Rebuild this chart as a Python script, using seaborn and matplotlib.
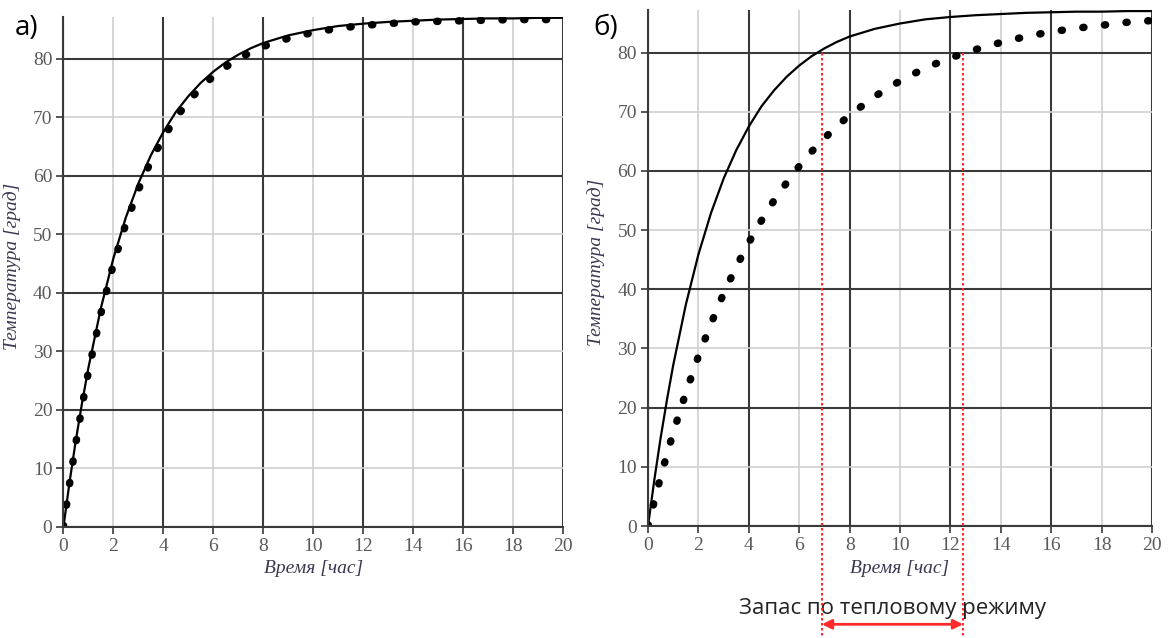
import matplotlib
matplotlib.use("Agg")
import matplotlib.pyplot as plt
import seaborn as sns
import pandas as pd

# Time axis, hours
hours = [0, 0.25, 0.5, 0.75, 1, 1.5, 2, 2.5, 3, 3.5, 4, 4.5, 5, 5.5, 6, 6.5,
         7, 7.5, 8, 9, 10, 11, 12, 13, 14, 15, 16, 17, 18, 19, 20]

# Temperature, degrees
temp_solid = [0, 7.8, 14.9, 21.3, 27.2, 37.4, 45.9, 52.9, 58.7, 63.5, 67.5, 70.9,
              73.6, 75.9, 77.8, 79.4, 80.7, 81.8, 82.7, 84.0, 84.9, 85.6, 86.0,
              86.3, 86.5, 86.7, 86.8, 86.9, 86.9, 87.0, 87.0]
temp_dotted_a = [0, 7.5, 14.4, 20.7, 26.5, 36.5, 44.9, 51.8, 57.6, 62.5, 66.5, 69.9,
                 72.7, 75.1, 77.0, 78.6, 80.0, 81.1, 82.1, 83.5, 84.5, 85.2, 85.7,
                 86.0, 86.3, 86.4, 86.5, 86.6, 86.7, 86.7, 86.7]
temp_dotted_b = [0, 4.2, 8.3, 12.1, 15.8, 22.5, 28.7, 34.2, 39.3, 43.8, 47.9, 51.6,
                 55.0, 58.0, 60.8, 63.3, 65.5, 67.6, 69.4, 72.6, 75.2, 77.4, 79.1,
                 80.5, 81.7, 82.7, 83.5, 84.1, 84.6, 85.1, 85.4]

# Times at which each curve in panel б) reaches the 80-degree level
reach_solid = 6.9
reach_dotted = 12.5
threshold = 80

x_ticks = list(range(0, 21, 2))
y_ticks = list(range(0, 81, 10))

panel_labels = ["а)", "б)"]
x_label = "Время [час]"
y_label = "Температура [град]"
margin_text = "Запас по тепловому режиму"

sns.set_theme(style="white")
plt.rcParams["font.family"] = ["Liberation Serif", "DejaVu Serif"]

df_a = pd.DataFrame({"t": hours, "solid": temp_solid, "dotted": temp_dotted_a})
df_b = pd.DataFrame({"t": hours, "solid": temp_solid, "dotted": temp_dotted_b})

fig = plt.figure(figsize=(11.71, 6.38), dpi=100)
ax_a = fig.add_axes([0.0542, 0.1745, 0.4266, 0.7994])
ax_b = fig.add_axes([0.5534, 0.1755, 0.4304, 0.809])

# Heavy dots spaced along the curve
dot_style = (0, (0.15, 2.75))

for ax, df in [(ax_a, df_a), (ax_b, df_b)]:
    ax.set_xlim(0, 20)
    ax.set_ylim(0, 87.2)
    ax.set_xticks(x_ticks)
    ax.set_yticks(y_ticks)
    ax.grid(True, which="major", axis="both")
    for val, gl in zip(x_ticks, ax.get_xgridlines()):
        if val % 4 == 0:
            gl.set_color("#3a3a3a"); gl.set_linewidth(1.5)
        else:
            gl.set_color("#d0d0d0"); gl.set_linewidth(1.2)
    for val, gl in zip(y_ticks, ax.get_ygridlines()):
        if val % 20 == 0:
            gl.set_color("#3a3a3a"); gl.set_linewidth(1.5)
        else:
            gl.set_color("#d0d0d0"); gl.set_linewidth(1.2)
    ax.set_axisbelow(True)
    for side in ["top", "right"]:
        ax.spines[side].set_visible(False)
    for side in ["left", "bottom"]:
        ax.spines[side].set_color("#3a3a3a")
        ax.spines[side].set_linewidth(1.5)
    ax.tick_params(direction="out", length=5, width=1.2, color="#3a3a3a",
                   labelsize=14, labelcolor="#5a5a5a", pad=3,
                   bottom=True, left=True)

    sns.lineplot(data=df, x="t", y="solid", ax=ax, color="black", lw=1.6)
    sns.lineplot(data=df, x="t", y="dotted", ax=ax, color="black", lw=5.4,
                 linestyle=dot_style, dash_capstyle="round")

    ax.set_xlabel(x_label, fontsize=14, fontstyle="italic", color="#3c3650",
                  labelpad=4)
    ax.set_ylabel(y_label, fontsize=14, fontstyle="italic", color="#3c3650")
    ax.yaxis.set_label_coords(-0.085, 0.51)

# Panel letters
for lab, xpix in zip(panel_labels, [15, 593]):
    fig.text(xpix / 1171, 1 - 28 / 638, lab, ha="left", va="center",
             fontsize=20, family=["Open Sans", "DejaVu Sans"], color="black")

# Red dotted markers where each curve reaches the threshold
red = "#ff2a2a"
for t_reach in [reach_solid, reach_dotted]:
    ax_b.plot([t_reach, t_reach], [threshold, -25], color=red, lw=1.5,
              linestyle=(0, (1.2, 1.2)), clip_on=False, zorder=5)

ax_b.annotate("", xy=(reach_dotted, -16.6), xytext=(reach_solid, -16.6),
              xycoords="data", annotation_clip=False,
              arrowprops=dict(arrowstyle="<|-|>", color=red, lw=2,
                              mutation_scale=14, shrinkA=0, shrinkB=0))
ax_b.text((reach_solid + reach_dotted) / 2, -13.9, margin_text,
          ha="center", va="center", fontsize=16,
          family=["Open Sans", "DejaVu Sans"], color="#222222", clip_on=False)

fig.savefig("out.png", dpi=100)
